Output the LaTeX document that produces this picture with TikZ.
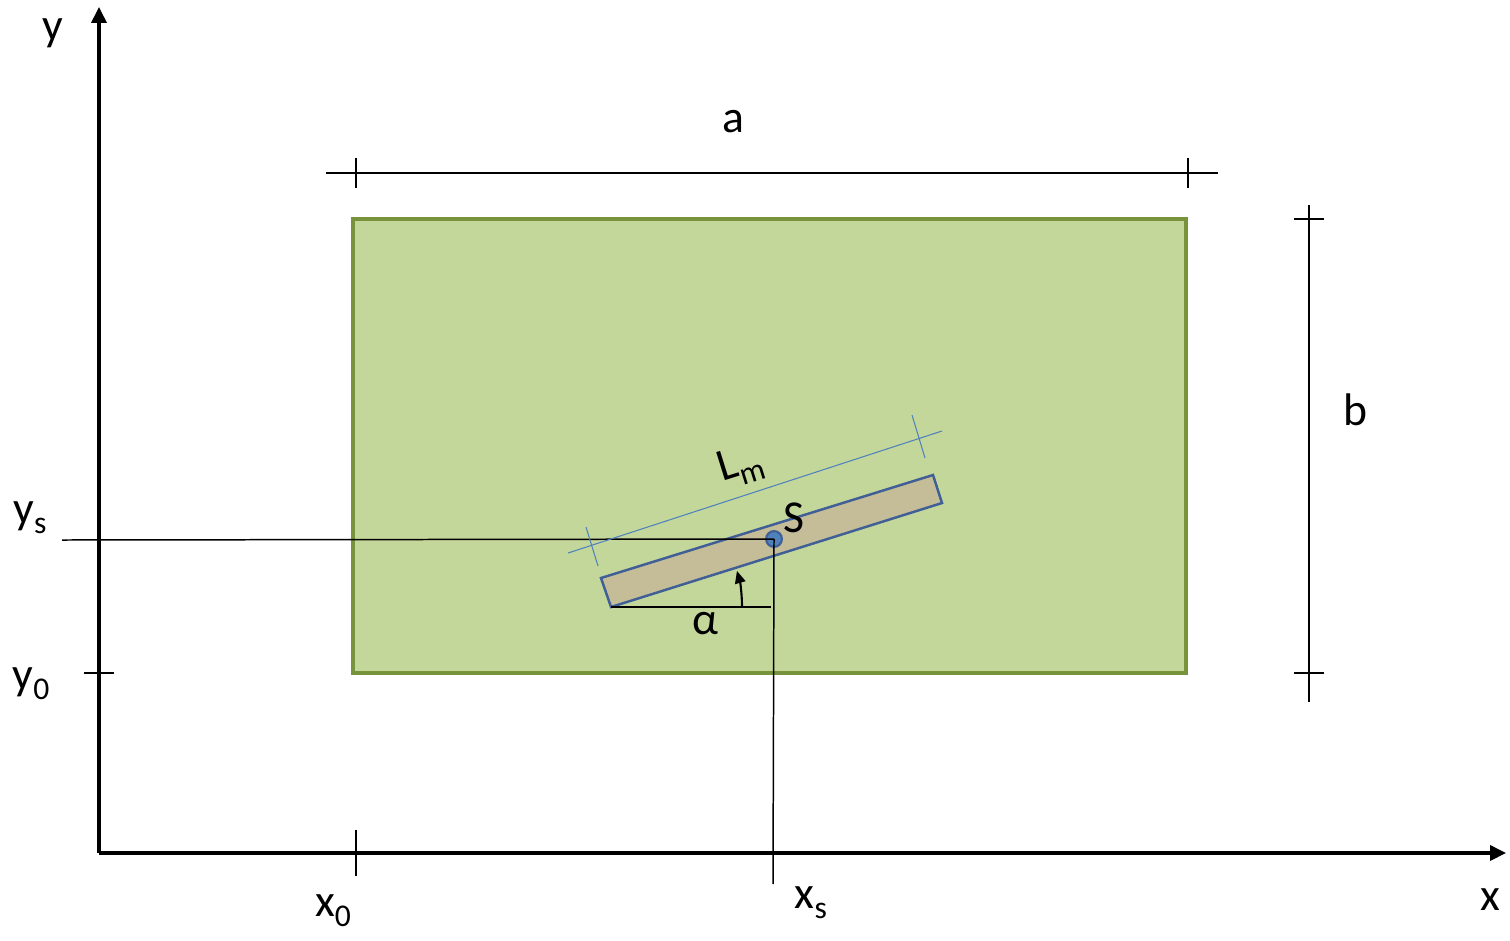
\documentclass[tikz,border=0pt]{standalone}
\usepackage{fontspec}
\setmainfont{Carlito}
\usetikzlibrary{arrows.meta, positioning, calc}
\definecolor{plategreen}{RGB}{196, 215, 155}
\definecolor{plateedge}{RGB}{119, 147, 60}
\definecolor{barfill}{RGB}{196, 189, 151}
\definecolor{baredge}{RGB}{64, 95, 150}
\definecolor{dimblue}{RGB}{79, 129, 189}
\newcommand{\lowsub}[1]{\raisebox{-0.45ex}{\fontsize{18}{21}\selectfont #1}}

\begin{document}
\begin{tikzpicture}[x=0.02cm, y=-0.02cm,
    font=\fontsize{26}{30}\selectfont,
    axis/.style={line width=1.9pt, -{Triangle[length=9pt, width=8.5pt]}},
    dimline/.style={line width=0.85pt},
    bluedim/.style={draw=dimblue, line width=0.6pt},
    plate/.style={fill=plategreen, draw=plateedge, line width=1.8pt},
    bar/.style={fill=barfill, draw=baredge, line width=1.4pt, line join=miter},
    label/.style={inner sep=0pt}]
  \useasboundingbox (0,0) rectangle (1510,940);

  % plate
  \draw[plate] (353,219) rectangle (1186,673);

  % axes
  \coordinate (O) at (99,853);
  \coordinate (xend) at (1506,853);
  \coordinate (yend) at (99,7);
  \draw[axis] (O) -- (xend);
  \draw[axis] (O) -- (yend);
  \node[label] (xlab) at (1490,900) {x};
  \node[label] (ylab) at (53,33) {y};

  % dimension a
  \coordinate (aL) at (326,173);
  \coordinate (aR) at (1218,173);
  \draw[dimline] (aL) -- (aR);
  \draw[dimline] (356,158) -- (356,188);
  \draw[dimline] (1188,158) -- (1188,188);
  \node[label] (alab) at (733,122) {a};

  % dimension b
  \coordinate (bT) at (1309,205);
  \coordinate (bB) at (1309,702);
  \draw[dimline] (bT) -- (bB);
  \draw[dimline] (1294,219) -- (1324,219);
  \draw[dimline] (1294,673) -- (1324,673);
  \node[label] (blab) at (1355,410) {b};

  % x0, y0
  \draw[dimline] (84,673) -- (114,673);
  \draw[dimline] (356,830) -- (356,876);
  \node[label] (y0lab) at (31,684) {y\lowsub{0}};
  \node[label] (x0lab) at (333,911) {x\lowsub{0}};

  % bar
  \coordinate (b1) at (611,607);
  \coordinate (b2) at (942,503);
  \coordinate (b3) at (933,475);
  \coordinate (b4) at (601,578);
  \draw[bar] (b1) -- (b2) -- (b3) -- (b4) -- cycle;

  % centre S
  \node[circle, fill=dimblue, draw=baredge, line width=1.2pt, minimum size=9pt, inner sep=0pt] (s) at (774,539) {};
  \node[label] (slab) at (794,518) {S};
  \coordinate (ysL) at (62,540);
  \coordinate (xsB) at (773,884);
  \draw[dimline] (ysL) -- (s.center);
  \draw[dimline] (s.center) -- (xsB);
  \node[label] (yslab) at (30,518) {y\lowsub{s}};
  \node[label] (xslab) at (811,903) {x\lowsub{s}};

  % length Lm
  \coordinate (lmA) at (568,553);
  \coordinate (lmB) at (942,431);
  \draw[bluedim] (lmA) -- (lmB);
  \draw[bluedim] (586,527) -- (598,566);
  \draw[bluedim] (912,415) -- (925,458);
  \node[label, rotate=17.4] (lmlab) at (741,466) {L\lowsub{m}};

  % angle alpha
  \coordinate (aEnd) at (771,607);
  \draw[dimline] (b1) -- (aEnd);
  \draw[line width=1.2pt, -{Triangle[length=7pt, width=6pt]}] (742,607) arc[start angle=0, end angle=-16, radius=131];
  \node[label] (alpha) at (705,624) {α};
\end{tikzpicture}
\end{document}
